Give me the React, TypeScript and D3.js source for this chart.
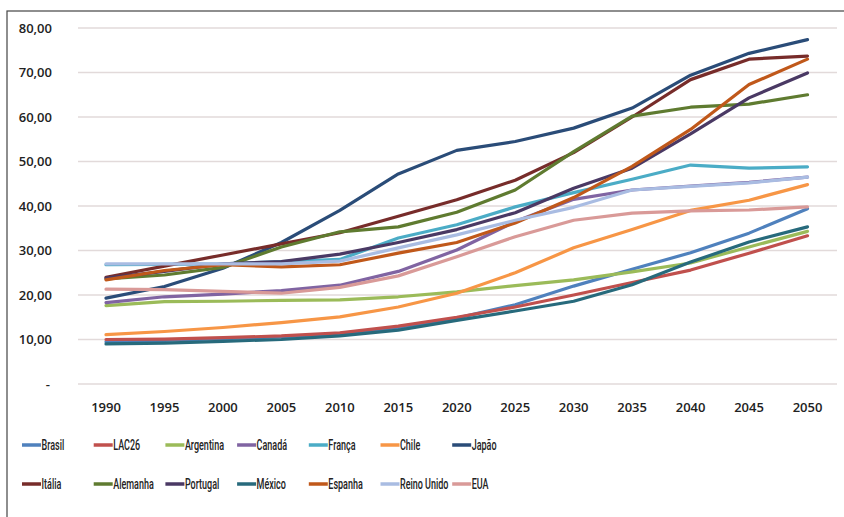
import React from "react";
import * as d3 from "d3";

const years = [1990, 1995, 2000, 2005, 2010, 2015, 2020, 2025, 2030, 2035, 2040, 2045, 2050];
const yTicks = [0, 10, 20, 30, 40, 50, 60, 70, 80];

const brasil = [9.5, 9.8, 10.2, 10.6, 11.2, 12.7, 14.8, 17.8, 22.0, 25.8, 29.5, 33.9, 39.4];
const lac26 = [10.0, 10.1, 10.4, 10.8, 11.5, 13.0, 15.0, 17.3, 20.0, 22.8, 25.6, 29.4, 33.3];
const argentina = [17.6, 18.5, 18.6, 18.8, 18.9, 19.6, 20.7, 22.1, 23.4, 25.2, 27.2, 30.8, 34.3];
const canada = [18.3, 19.6, 20.2, 21.0, 22.2, 25.3, 30.1, 36.5, 41.5, 43.6, 44.5, 45.3, 46.5];
const franca = [26.8, 26.9, 27.0, 27.5, 28.0, 32.8, 35.8, 39.8, 43.0, 46.0, 49.2, 48.5, 48.8];
const chile = [11.1, 11.8, 12.7, 13.8, 15.1, 17.3, 20.4, 25.0, 30.6, 34.7, 39.0, 41.3, 44.8];
const japao = [19.3, 21.9, 26.0, 31.8, 39.0, 47.2, 52.5, 54.5, 57.5, 62.0, 69.4, 74.3, 77.4];
const italia = [24.0, 26.5, 29.0, 31.5, 34.0, 37.7, 41.4, 45.8, 52.0, 60.0, 68.4, 73.0, 73.7];
const alemanha = [23.6, 24.5, 26.2, 30.8, 34.2, 35.3, 38.6, 43.6, 52.2, 60.2, 62.2, 62.9, 65.0];
const portugal = [23.8, 25.3, 27.0, 27.5, 29.2, 31.8, 34.7, 38.5, 44.0, 48.5, 56.2, 64.3, 69.9];
const mexico = [9.0, 9.2, 9.6, 10.0, 10.8, 12.1, 14.3, 16.4, 18.6, 22.3, 27.4, 31.9, 35.3];
const espanha = [23.4, 25.5, 26.8, 26.3, 26.8, 29.4, 31.8, 36.2, 41.9, 48.9, 57.2, 67.3, 73.0];
const reinoUnido = [27.0, 27.0, 27.0, 27.0, 27.6, 30.6, 33.5, 36.8, 39.7, 43.6, 44.4, 45.2, 46.5];
const eua = [21.3, 21.2, 20.8, 20.4, 21.7, 24.3, 28.6, 33.1, 36.8, 38.4, 38.9, 39.1, 39.8];

const seriesNames = [
  "Brasil", "LAC26", "Argentina", "Canadá", "França", "Chile", "Japão",
  "Itália", "Alemanha", "Portugal", "México", "Espanha", "Reino Unido", "EUA",
];
const seriesValues = [
  brasil, lac26, argentina, canada, franca, chile, japao,
  italia, alemanha, portugal, mexico, espanha, reinoUnido, eua,
];
const seriesColors = [
  "#4F81BD", "#C0504D", "#9BBB59", "#8064A2", "#4BACC6", "#F79646", "#2A4C78",
  "#772C2A", "#5F7B30", "#4A3964", "#276A7C", "#C0581A", "#A9BCE2", "#D99A98",
];

export default function App() {
  const W = 844;
  const H = 517;
  const x = d3.scaleLinear().domain([1990, 2050]).range([106, 807.5]);
  const y = d3.scaleLinear().domain([0, 80]).range([384, 28]);
  const fmt = (v: number) => (v === 0 ? "-" : d3.format(".2f")(v).replace(".", ","));
  const line = d3
    .line<number>()
    .x((_, i) => x(years[i]))
    .y((d) => y(d));

  const legendX0 = 22;
  const legendDx = 71.7;
  const legendRows = [445, 484];

  return (
    <svg
      width={W}
      height={H}
      style={{ position: "absolute", left: 0, top: 0, background: "#fff" }}
    >
      <rect x={0} y={0} width={W} height={H} fill="#fff" />
      <rect x={7} y={11} width={W + 20} height={H + 20} fill="none" stroke="#444" strokeWidth={1.2} />
      {yTicks.map((t) => (
        <g key={t}>
          <line x1={78} x2={837} y1={y(t)} y2={y(t)} stroke="#e2dada" strokeWidth={1.4} />
          <text
            x={t === 0 ? 50 : 52}
            y={y(t)}
            dy="0.35em"
            textAnchor="end"
            fontFamily="'Open Sans', sans-serif"
            fontWeight={600}
            fontSize={13}
            fill="#222"
          >
            {fmt(t)}
          </text>
        </g>
      ))}
      {years.map((yr) => (
        <text
          key={yr}
          x={x(yr)}
          y={407}
          dy="0.35em"
          textAnchor="middle"
          fontFamily="'Open Sans', sans-serif"
          fontWeight={600}
          fontSize={13}
          fill="#222"
        >
          {yr}
        </text>
      ))}
      {seriesValues.map((vals, i) => (
        <path
          key={seriesNames[i]}
          d={line(vals) || ""}
          fill="none"
          stroke={seriesColors[i]}
          strokeWidth={3.2}
          strokeLinejoin="round"
          strokeLinecap="round"
        />
      ))}
      {seriesNames.map((name, i) => {
        const col = i % 7;
        const row = Math.floor(i / 7);
        const lx = legendX0 + col * legendDx;
        const ly = legendRows[row];
        return (
          <g key={name}>
            <line x1={lx} x2={lx + 19} y1={ly} y2={ly} stroke={seriesColors[i]} strokeWidth={3.5} />
            <text
              transform={`translate(${lx + 19.5},${ly}) scale(0.6,1)`}
              dy="0.36em"
              fontFamily="'Roboto', sans-serif"
              fontWeight={500}
              fontSize={15}
              fill="#222"
            >
              {name}
            </text>
          </g>
        );
      })}
    </svg>
  );
}
